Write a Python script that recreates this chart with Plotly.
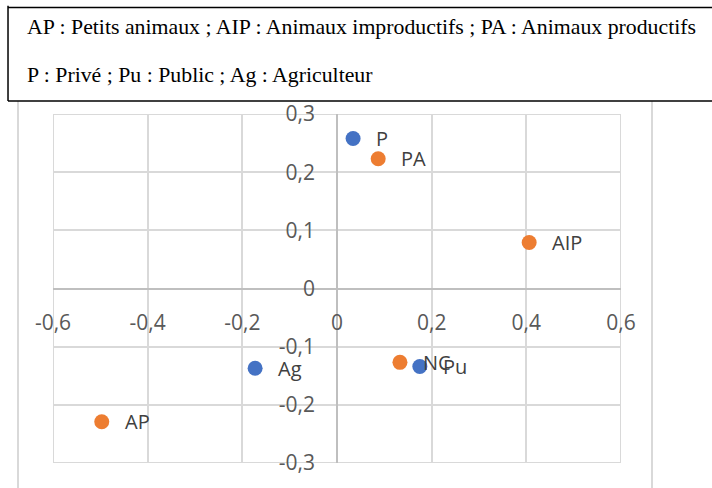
import plotly.graph_objects as go

# profession points (blue) and animal-category points (orange)
prof_labels = ["P", "Pu", "Ag"]
prof_x = [0.034, 0.175, -0.173]
prof_y = [0.258, -0.134, -0.137]

anim_labels = ["PA", "AIP", "NC", "AP"]
anim_x = [0.087, 0.406, 0.133, -0.497]
anim_y = [0.223, 0.079, -0.127, -0.229]

x_ticks = [-0.6, -0.4, -0.2, 0, 0.2, 0.4, 0.6]
x_ticktext = ["-0,6", "-0,4", "-0,2", "0", "0,2", "0,4", "0,6"]
y_ticks = [-0.3, -0.2, -0.1, 0, 0.1, 0.2, 0.3]
y_ticktext = ["-0,3", "-0,2", "-0,1", "0", "0,1", "0,2", "0,3"]

legend_lines = [
    "AP : Petits animaux ; AIP : Animaux improductifs ; PA : Animaux productifs",
    "P : Privé ; Pu : Public ; Ag : Agriculteur",
]

BLUE = "#4472C4"
ORANGE = "#ED7D31"
GRID = "#D9D9D9"
FONT = "Open Sans"

fig = go.Figure()

fig.add_scatter(x=prof_x, y=prof_y, mode="markers", name="Profession",
                marker=dict(size=15, color=BLUE), showlegend=False)
fig.add_scatter(x=anim_x, y=anim_y, mode="markers", name="Animaux",
                marker=dict(size=15, color=ORANGE), showlegend=False)

# point labels, pushed right of the markers like Excel does
for lab, x, y in list(zip(prof_labels, prof_x, prof_y)) + list(zip(anim_labels, anim_x, anim_y)):
    fig.add_annotation(x=x, y=y, text=lab, showarrow=False, xanchor="left",
                       yanchor="middle", xshift=21,
                       font=dict(family=FONT, size=20, color="#404040"))

# outer edge of the plot area (plotly drops the grid lines sitting on the edges)
fig.add_shape(type="rect", xref="x", yref="y", x0=-0.6, x1=0.6, y0=-0.3, y1=0.3,
              line=dict(color=GRID, width=2), layer="below")

# the text box at the top: white fill plus explicit border lines
fig.add_shape(type="rect", xref="paper", yref="paper",
              x0=-0.0792, x1=1.2, y0=1.037, y1=1.31,
              line=dict(width=0), fillcolor="white", layer="above")
box_edges = [(-0.0792, 1.037, 1.2, 1.037), (-0.0792, 1.037, -0.0792, 1.31),
             (-0.0792, 1.305, 1.2, 1.305)]
for x0, y0, x1, y1 in box_edges:
    fig.add_shape(type="line", xref="paper", yref="paper", x0=x0, y0=y0, x1=x1, y1=y1,
                  line=dict(color="#000000", width=1.5), layer="above")
for i, line in enumerate(legend_lines):
    fig.add_annotation(xref="paper", yref="paper", x=-0.0493, y=[1.249, 1.112][i],
                       text=line, showarrow=False, xanchor="left", yanchor="middle",
                       font=dict(family="Liberation Serif", size=21.8, color="#000000"))

# chart-area border (left and right edges)
for xp in [-0.0616, 1.0546]:
    fig.add_shape(type="line", xref="paper", yref="paper", x0=xp, x1=xp,
                  y0=-0.2, y1=1.037, line=dict(color=GRID, width=2), layer="below")

fig.update_xaxes(range=[-0.6, 0.6], tickvals=x_ticks, ticktext=x_ticktext,
                 showgrid=True, gridcolor=GRID, gridwidth=2,
                 zeroline=True, zerolinecolor="#BFBFBF", zerolinewidth=2,
                 anchor="free", position=0.5, ticklabelstandoff=19,
                 tickfont=dict(family=FONT, size=21, color="#595959"))
fig.update_yaxes(range=[-0.3, 0.3], tickvals=y_ticks, ticktext=y_ticktext,
                 showgrid=True, gridcolor=GRID, gridwidth=2,
                 zeroline=True, zerolinecolor="#BFBFBF", zerolinewidth=2,
                 anchor="free", position=0.5, ticklabelstandoff=22,
                 tickfont=dict(family=FONT, size=21, color="#595959"))

fig.update_layout(width=712, height=488,
                  margin=dict(l=53, r=91, t=114, b=25),
                  plot_bgcolor="white", paper_bgcolor="white")

# drop the default body margin so the figure sits at the page corner
fig.write_html("out.html", config={"displayModeBar": False},
               post_script="document.body.style.margin='0';")
